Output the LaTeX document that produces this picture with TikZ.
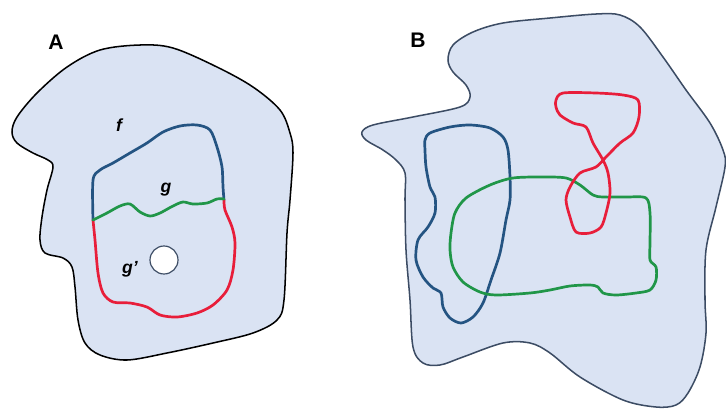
\documentclass[tikz,border=0pt]{standalone}
\usepackage{fontspec}
\setmainfont{Liberation Sans}
\usetikzlibrary{positioning}
\definecolor{regionfill}{RGB}{218,227,243}
\definecolor{regionedge}{RGB}{60,76,100}
\definecolor{fblue}{RGB}{36,84,130}
\definecolor{ggreen}{RGB}{32,150,72}
\definecolor{gred}{RGB}{232,30,58}
\tikzset{
  region/.style={fill=regionfill, line width=1.3pt, line join=round},
  loopline/.style={line width=2.3pt, line join=round, line cap=round},
  panel/.style={font=\fontsize{18}{20}\selectfont\bfseries, inner sep=0pt},
  curvelabel/.style={font=\fontsize{15}{17}\selectfont\bfseries\itshape, inner sep=0pt}
}
\begin{document}
\begin{tikzpicture}[x=0.03cm, y=-0.03cm]
    \useasboundingbox (0,0) rectangle (726,412);

    % panel A
    \draw[region, draw=black] plot[smooth cycle, tension=0.55] coordinates {
      (17,117) (37,93) (67,67) (100,50) (140,45) (173,48) (217,67) (253,87)
      (280,110) (290,133) (293,153) (290,200) (287,233) (284,300) (277,320)
      (253,333) (213,343) (167,353) (127,360) (100,355) (85,343) (78,320)
      (75,287) (72,267) (63,258) (45,253) (40,240) (42,217) (47,190) (53,167)
      (48,160) (33,153) (17,143) (12,132)};
    \node (hole) [circle, draw=regionedge, fill=white, line width=1pt,
      minimum size=0.84cm, inner sep=0pt] at (164,260) {};
    \draw[loopline, fblue] plot[smooth, tension=0.5] coordinates {
      (93,220) (93,180) (100,170) (113,163) (130,153) (147,143) (163,132)
      (180,126) (197,125) (210,130) (217,147) (222,167) (223,187) (224,200)};
    \draw[loopline, gred] plot[smooth, tension=0.5] coordinates {
      (93,220) (95,240) (98,273) (103,293) (113,302) (130,303) (147,307)
      (160,315) (177,317) (197,313) (213,305) (227,290) (233,270) (235,243)
      (232,227) (225,210) (224,200)};
    \draw[loopline, ggreen] plot[smooth, tension=0.5] coordinates {
      (93,220) (107,213) (120,206) (130,204) (140,212) (150,216) (160,213)
      (173,206) (183,202) (193,204) (207,203) (217,199) (224,199)};
    \node (labelA) [panel] at (56,42) {A};
    \node (labelf) [curvelabel] at (119,125) {f};
    \node (labelg) [curvelabel] at (166,190) {g};
    \node (labelgp) [curvelabel] at (130,269) {g'};

    % panel B
    \draw[region, draw=regionedge] plot[smooth cycle, tension=0.55] coordinates {
      (373,125) (413,117) (460,107) (470,97) (466,85) (453,72) (448,60)
      (453,45) (473,32) (503,23) (550,18) (596,14) (620,15) (640,27)
      (663,57) (686,90) (710,123) (723,150) (725,167) (716,207) (706,250)
      (705,300) (706,333) (700,367) (688,393) (676,405) (656,407) (623,400)
      (580,377) (550,353) (530,343) (503,343) (463,357) (440,365) (423,363)
      (413,347) (410,300) (406,250) (405,200) (405,173) (396,160) (383,150)
      (366,140) (362,132)};
    \draw[loopline, fblue] plot[smooth cycle, tension=0.5] coordinates {
      (425,140) (430,133) (450,127) (470,125) (490,128) (503,137) (508,150)
      (510,177) (510,200) (506,220) (500,253) (491,280) (483,303) (473,317)
      (461,323) (450,318) (443,307) (441,293) (433,288) (423,277) (416,260)
      (418,240) (428,227) (435,213) (435,197) (430,187) (426,167) (425,150)};
    \draw[loopline, ggreen] plot[smooth cycle, tension=0.5] coordinates {
      (451,233) (455,213) (466,198) (490,185) (513,178) (543,177) (566,178)
      (580,185) (593,195) (603,197) (626,197) (646,198) (650,213) (650,243)
      (650,260) (656,267) (656,280) (650,290) (636,293) (616,295) (603,293)
      (598,287) (590,285) (570,286) (550,290) (530,293) (496,295) (480,292)
      (463,282) (453,267) (450,250)};
    \draw[loopline, gred] plot[smooth cycle, tension=0.5] coordinates {
      (556,100) (563,93) (596,93) (623,95) (638,100) (639,117) (633,133)
      (620,143) (606,157) (596,167) (580,173) (570,187) (566,200) (570,217)
      (576,232) (590,233) (601,227) (606,213) (610,193) (608,173) (603,160)
      (593,143) (586,127) (573,123) (560,115) (556,107)};
    \node (labelB) [panel] at (418,40) {B};
\end{tikzpicture}
\end{document}
